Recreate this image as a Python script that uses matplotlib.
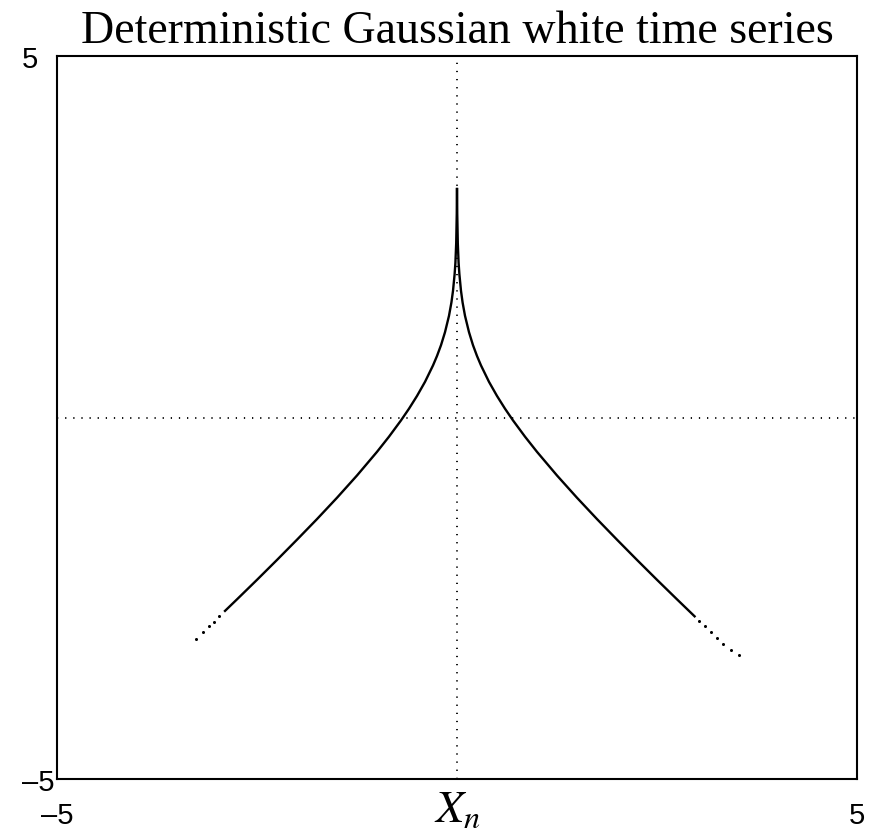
import matplotlib
matplotlib.use("Agg")
import matplotlib.pyplot as plt

# curve (X_n -> X_n+1), left and right branches
left_x = [-2.9, -2.75, -2.5, -2.25, -2.0, -1.75, -1.5, -1.25, -1.0, -0.85, -0.7,
          -0.6, -0.5, -0.4, -0.3, -0.25, -0.2, -0.15, -0.1, -0.07, -0.05, -0.03,
          -0.02, -0.01, -0.003, -0.001]
left_y = [-2.675, -2.515, -2.245, -1.97, -1.69, -1.405, -1.11, -0.802, -0.475, -0.265, -0.04,
          0.122, 0.298, 0.493, 0.72, 0.851, 1.0, 1.18, 1.407, 1.59, 1.752, 1.98,
          2.14, 2.41, 2.82, 3.16]
right_x = [0.001, 0.003, 0.01, 0.02, 0.03, 0.05, 0.07, 0.1, 0.15, 0.2, 0.25, 0.3,
           0.4, 0.5, 0.6, 0.7, 0.85, 1.0, 1.25, 1.5, 1.75, 2.0, 2.25, 2.5, 2.75, 2.97]
right_y = [3.16, 2.82, 2.41, 2.14, 1.98, 1.752, 1.59, 1.407, 1.18, 1.0, 0.851, 0.72,
           0.493, 0.298, 0.122, -0.04, -0.265, -0.475, -0.802, -1.11, -1.405, -1.69, -1.97,
           -2.245, -2.515, -2.75]
# sparse points at the ends
left_tail_x = [-3.26, -3.17, -3.1, -3.04, -2.97]
left_tail_y = [-3.06, -2.96, -2.89, -2.825, -2.75]
right_tail_x = [3.03, 3.1, 3.17, 3.25, 3.33, 3.42, 3.52]
right_tail_y = [-2.81, -2.89, -2.96, -3.05, -3.13, -3.22, -3.29]

ticks = [-5, 5]
tick_labels = ['\u20135', '5']

plt.rcParams['mathtext.fontset'] = 'stix'

fig = plt.figure(figsize=(8.69, 8.37), dpi=100)
ax = fig.add_axes([57/869, 1-780/837, 800/869, 723/837])

ax.axvline(0, color='black', lw=1.3, linestyle=(0, (0.7, 3.8)))
ax.axhline(0, color='black', lw=1.3, linestyle=(0, (0.7, 3.8)))

ax.plot(left_x, left_y, color='black', lw=1.7)
ax.plot(right_x, right_y, color='black', lw=1.7)
ax.plot(left_tail_x, left_tail_y, 'o', color='black', ms=2.2, mew=0)
ax.plot(right_tail_x, right_tail_y, 'o', color='black', ms=2.2, mew=0)

ax.set_xlim(-5, 5)
ax.set_ylim(-5, 5)
ax.set_xticks(ticks)
ax.set_yticks(ticks)
ax.set_xticklabels(tick_labels, family='Liberation Sans', fontsize=21)
ax.set_yticklabels(tick_labels, family='Liberation Sans', fontsize=21, ha='left')
ax.tick_params(length=0)
ax.tick_params(axis='x', pad=16)
ax.tick_params(axis='y', pad=25)
for s in ax.spines.values():
    s.set_linewidth(1.5)

ax.set_title('Deterministic Gaussian white time series', family='Liberation Serif',
             fontsize=33, pad=10)
ax.set_xlabel('$X_n$', fontsize=33, va='top')
ax.xaxis.set_label_coords(0.5, -0.01)

fig.savefig('out.png', dpi=100)
